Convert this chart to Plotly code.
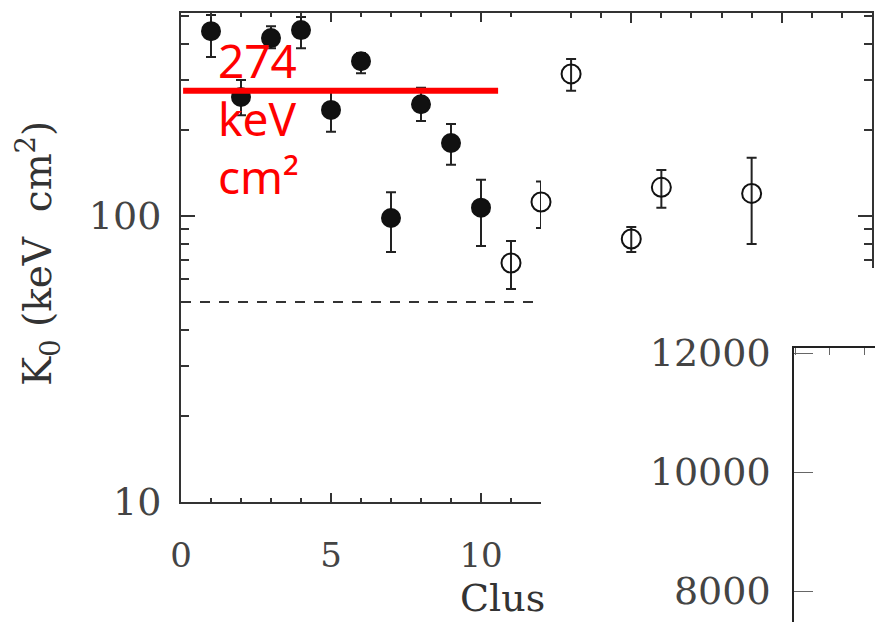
import plotly.graph_objects as go

# Central entropy K0 per cluster, with upper / lower error bounds (keV cm^2)
cluster = [1, 2, 3, 4, 5, 6, 7, 8, 9, 10, 11, 12, 13, 15, 16, 19]
k0 = [443, 261, 419, 447, 235, 348, 98.4, 246, 180, 107, 68.5, 112, 314, 83.1, 126, 120]
k0_hi = [505, 299, 461, 497, 274, 372, 121, 281, 210, 134, 81.8, 132, 354, 91.6, 145, 160]
k0_lo = [360, 225, 386, 386, 197, 316, 74.8, 215, 151, 78.5, 55.6, 90.8, 274, 74.8, 107, 79.8]
filled = [True] * 10 + [False] * 6

# Reference levels
floor_level = 50
mark_level = 274
mark_x = [0.07, 10.57]
mark_lines = ["274", "keV", "cm²"]

# Tick labels
y_ticks = [10, 100]
y_ticktext = ["10", "100"]
y_minor = [20, 30, 40, 50, 60, 70, 80, 90, 200, 300, 400, 500]
x_ticks = [0, 5, 10]
inset_ticks = [8000, 10000, 12000]
inset_ticktext = ["8000", "10000", "12000"]

W, H = 875, 622
SERIF = "DejaVu Serif"
AX = "#333333"
NB = "\u00a0"

# plot-area geometry in pixels
left, split, right = 181, 541, 872
top, bottom, step = 13, 502, 268
y_lo_log, y_hi_log = 1.0, 2.71
ppd = (bottom - top) / (y_hi_log - y_lo_log)
x_split = 12.0
x_max = 23.0
stepped_lo = y_hi_log - (step - top) / ppd


def px(v):
    return v / W


def py(v):
    return 1 - v / H


fig = go.Figure()


def add_points(sel, xa, ya):
    for fill in (True, False):
        idx = [i for i in sel if filled[i] == fill]
        if not idx:
            continue
        xs = [cluster[i] for i in idx]
        ys = [k0[i] for i in idx]
        up = [k0_hi[i] - k0[i] for i in idx]
        dn = [k0[i] - k0_lo[i] for i in idx]
        fig.add_trace(go.Scatter(
            x=xs, y=ys, mode="markers", xaxis=xa, yaxis=ya,
            cliponaxis=False, showlegend=False,
            marker=dict(symbol="circle" if fill else "circle-open",
                        size=18 if fill else 19, color="#111",
                        line=dict(width=2, color="#111")),
            error_y=dict(type="data", symmetric=False, array=up, arrayminus=dn,
                         color="#222", thickness=2, width=5),
        ))


left_sel = [i for i, c in enumerate(cluster) if c <= x_split]
right_sel = [i for i, c in enumerate(cluster) if c > x_split]

# dashed floor line
fig.add_trace(go.Scatter(x=[0, x_split], y=[floor_level, floor_level], mode="lines",
                         line=dict(color=AX, width=2, dash="10px,9px"),
                         xaxis="x", yaxis="y", showlegend=False))
add_points(left_sel, "x", "y")
add_points(right_sel, "x2", "y2")

# red reference level
fig.add_trace(go.Scatter(x=mark_x, y=[mark_level, mark_level], mode="lines",
                         line=dict(color="#ff0000", width=6),
                         xaxis="x", yaxis="y", showlegend=False))

# empty trace so the inset panel is drawn
fig.add_trace(go.Scatter(x=[], y=[], xaxis="x3", yaxis="y3", showlegend=False))

annotations = [
    dict(text=f"K<sub>0</sub>{NB}(keV{NB}{NB}cm<sup>2</sup>)", textangle=-90,
         xref="paper", yref="paper", x=px(38), y=py(254),
         xanchor="center", yanchor="middle", showarrow=False,
         font=dict(family=SERIF, size=39, color="#333")),
    dict(text="Clus", xref="paper", yref="paper", x=px(458), y=py(598),
         xanchor="left", yanchor="middle", showarrow=False,
         font=dict(family=SERIF, size=38, color="#333")),
]
# red label, one line per annotation
for line, ypix in zip(mark_lines, [60, 118, 176]):
    annotations.append(dict(text=line, xref="paper", yref="paper", x=px(216), y=py(ypix),
                            xanchor="left", yanchor="middle", showarrow=False,
                            font=dict(family="Noto Sans", size=46, color="#ff0000")))

fig.update_layout(
    width=W, height=H,
    margin=dict(l=0, r=0, t=0, b=0, autoexpand=False),
    paper_bgcolor="white", plot_bgcolor="white",
    xaxis=dict(
        domain=[px(left), px(split)], range=[0, x_split], anchor="y", automargin=False,
        showline=True, linecolor=AX, linewidth=2, mirror="ticks",
        ticks="inside", ticklen=9, tickwidth=1.5, tickcolor=AX,
        tickvals=x_ticks, ticktext=[str(v) for v in x_ticks],
        tickfont=dict(family=SERIF, size=34, color="#444"),
        ticklabelstandoff=22,
        minor=dict(dtick=1, tick0=0, ticks="inside", ticklen=4, tickcolor=AX),
        showgrid=False, zeroline=False,
    ),
    yaxis=dict(
        domain=[py(bottom), py(top)], type="log", range=[y_lo_log, y_hi_log], anchor="x",
        automargin=False,
        showline=True, linecolor=AX, linewidth=2, mirror=False,
        ticks="inside", ticklen=14, tickwidth=1.5, tickcolor=AX,
        tickvals=y_ticks, ticktext=y_ticktext,
        tickfont=dict(family=SERIF, size=38, color="#444"),
        ticklabelstandoff=10,
        minor=dict(tickmode="array", tickvals=y_minor, ticks="inside", ticklen=8, tickcolor=AX),
        showgrid=False, zeroline=False,
    ),
    xaxis2=dict(
        domain=[px(split), px(right)], range=[x_split, x_max], anchor="y2", side="top",
        automargin=False,
        showline=True, linecolor=AX, linewidth=2, mirror=False,
        ticks="inside", ticklen=10, tickwidth=1.5, tickcolor=AX,
        tick0=0, dtick=5, showticklabels=False,
        minor=dict(dtick=1, tick0=0, ticks="inside", ticklen=5, tickcolor=AX),
        showgrid=False, zeroline=False,
    ),
    yaxis2=dict(
        domain=[py(step), py(top)], type="log", range=[stepped_lo, y_hi_log], anchor="x2",
        side="right", automargin=False,
        showline=True, linecolor=AX, linewidth=2, mirror=False,
        ticks="inside", ticklen=14, tickwidth=1.5, tickcolor=AX,
        tickvals=[100], showticklabels=False,
        minor=dict(tickmode="array", tickvals=y_minor, ticks="inside", ticklen=8, tickcolor=AX),
        showgrid=False, zeroline=False,
    ),
    xaxis3=dict(
        domain=[px(794), 1], range=[-1.03, 1.29], anchor="y3", side="top",
        automargin=False,
        showline=True, linecolor="#222", linewidth=1.5, mirror=False,
        ticks="inside", ticklen=7, tickwidth=1, tickcolor="#666",
        dtick=1, tick0=0, showticklabels=False,
        showgrid=False, zeroline=False,
    ),
    yaxis3=dict(
        domain=[0, py(348)], range=[7479, 12084], anchor="x3", automargin=False,
        showline=True, linecolor="#222", linewidth=1.5, mirror=False,
        ticks="inside", ticklen=19, tickwidth=1, tickcolor="#666",
        tickvals=inset_ticks, ticktext=inset_ticktext,
        tickfont=dict(family=SERIF, size=38, color="#444"),
        ticklabelstandoff=14,
        showgrid=False, zeroline=False,
    ),
    annotations=annotations,
)

fig.write_html("out.html")
